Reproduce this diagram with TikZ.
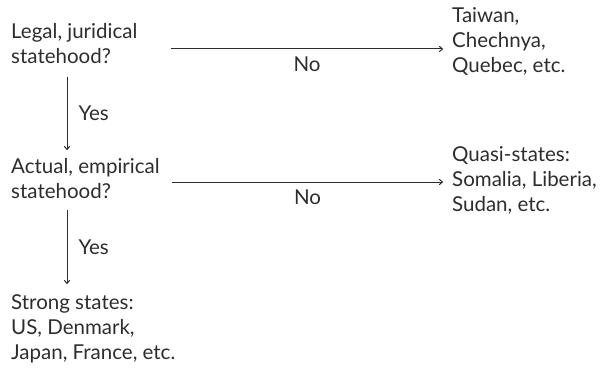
\documentclass[tikz,border=0pt]{standalone}
\usepackage{fontspec}
\setmainfont{Lato}
\usetikzlibrary{arrows.meta}
\definecolor{ink}{RGB}{45,45,45}
\tikzset{
  txt/.style={anchor=base west, align=left, inner sep=0pt, text=ink,
    font=\fontsize{20.5}{25}\selectfont},
  lbl/.style={inner sep=0pt, text=ink, font=\fontsize{20.5}{25}\selectfont},
  arr/.style={draw=ink, line width=1pt, -{To[length=4pt,width=6pt]}}
}
\begin{document}
\begin{tikzpicture}[x=1pt,y=-1pt]
\useasboundingbox (0,0) rectangle (601,374);
% base anchor = baseline of the last line
\node[txt] (L1) at (11,64) {Legal, juridical\\statehood?};
\node[txt] (R1) at (452,73) {Taiwan,\\Chechnya,\\Quebec, etc.};
\node[txt] (L2) at (11,198) {Actual, empirical\\statehood?};
\node[txt] (R2) at (452,211) {Quasi-states:\\Somalia, Liberia,\\Sudan, etc.};
\node[txt] (L3) at (11,359) {Strong states:\\US, Denmark,\\Japan, France, etc.};
\coordinate (h1s) at (171,49);
\coordinate (h1e) at (443,49);
\coordinate (h2s) at (172,182);
\coordinate (h2e) at (443,182);
\coordinate (v1s) at (67,77);
\coordinate (v1e) at (67,150);
\coordinate (v2s) at (67,210);
\coordinate (v2e) at (67,284);
\draw[arr] (h1s) -- node[lbl, below=7pt] (n1) {No} (h1e);
\draw[arr] (h2s) -- node[lbl, below=7pt] (n2) {No} (h2e);
\draw[arr] (v1s) -- node[lbl, right=11pt] (y1) {Yes} (v1e);
\draw[arr] (v2s) -- node[lbl, right=11pt] (y2) {Yes} (v2e);
\end{tikzpicture}
\end{document}
